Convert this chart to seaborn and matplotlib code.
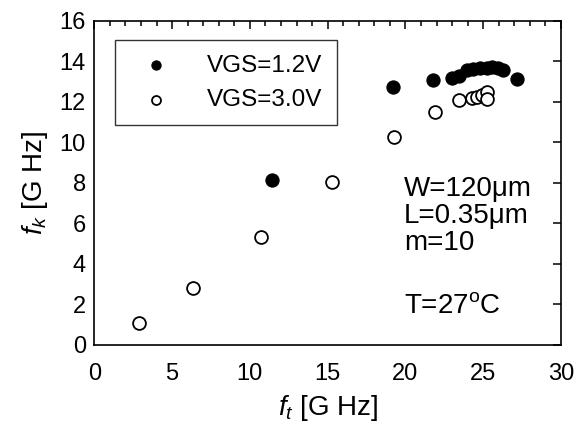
import matplotlib
matplotlib.use("Agg")
import matplotlib.pyplot as plt
import seaborn as sns
import pandas as pd
from matplotlib.ticker import MultipleLocator

# Data
ft_12 = [11.43, 19.2, 21.8, 22.97, 23.44, 23.93, 24.34, 24.79, 25.22, 25.54, 25.94, 26.27, 27.15]
fk_12 = [8.13, 12.72, 13.07, 13.16, 13.28, 13.57, 13.61, 13.65, 13.68, 13.70, 13.65, 13.57, 13.12]
ft_30 = [2.85, 6.32, 10.71, 15.27, 19.26, 21.9, 23.46, 24.25, 24.61, 24.9, 25.22, 25.22]
fk_30 = [1.06, 2.79, 5.32, 8.03, 10.26, 11.51, 12.08, 12.2, 12.25, 12.33, 12.46, 12.13]
labels = ["VGS=1.2V", "VGS=3.0V"]
xticks = [0, 5, 10, 15, 20, 25, 30]
yticks = [0, 2, 4, 6, 8, 10, 12, 14, 16]
notes = "W=120\u03bcm\nL=0.35\u03bcm\nm=10"
temp = "T=27$^{\\mathrm{o}}$C"

sns.set_theme(style="white")
plt.rcParams["font.family"] = ["Liberation Sans", "DejaVu Sans"]
plt.rcParams["mathtext.fontset"] = "custom"
plt.rcParams["mathtext.rm"] = "Liberation Sans"
plt.rcParams["mathtext.it"] = "Liberation Sans:italic"
plt.rcParams["text.color"] = "black"
plt.rcParams["axes.labelcolor"] = "black"

fig = plt.figure(figsize=(5.77, 4.30), dpi=100)
ax = fig.add_axes([0.1634, 0.1984, 0.8089, 0.7535])

df12 = pd.DataFrame({"ft": ft_12, "fk": fk_12})
df30 = pd.DataFrame({"ft": ft_30, "fk": fk_30})
sns.scatterplot(data=df12, x="ft", y="fk", ax=ax, color="black", s=90,
                edgecolor="black", linewidth=0.8, label=labels[0], zorder=3)
sns.scatterplot(data=df30, x="ft", y="fk", ax=ax, facecolor="white", s=85,
                edgecolor="black", linewidth=1.3, label=labels[1], zorder=3)

ax.set_xlim(0, 30)
ax.set_ylim(0, 16)
ax.set_xticks(xticks)
ax.set_yticks(yticks)
ax.xaxis.set_minor_locator(MultipleLocator(1))
ax.tick_params(which="both", direction="in", top=True, right=True,
               labelsize=17, colors="black", width=1.1)
ax.tick_params(which="major", length=6)
ax.tick_params(which="minor", length=3.5)
ax.tick_params(axis="x", which="major", pad=13)
ax.tick_params(axis="y", which="major", pad=6)
for sp in ax.spines.values():
    sp.set_color("black")
    sp.set_linewidth(1.2)

ax.set_xlabel("$f_t$ [G Hz]", fontsize=20, color="black", labelpad=6)
ax.set_ylabel("$f_k$ [G Hz]", fontsize=20, color="black", labelpad=7)

leg = ax.legend(loc="upper left", bbox_to_anchor=(0.044, 0.94), borderaxespad=0,
                fontsize=17.5, frameon=True, fancybox=False, edgecolor="black",
                markerscale=0.7, handletextpad=1.0, borderpad=0.6,
                labelspacing=0.5, handlelength=2.2)
leg.get_frame().set_linewidth(1.0)

ax.text(0.664, 0.52, notes, transform=ax.transAxes, fontsize=20,
        va="top", ha="left", linespacing=1.05)
ax.text(0.664, 0.12, temp, transform=ax.transAxes, fontsize=20,
        va="center", ha="left")

fig.savefig("out.png", dpi=100)
